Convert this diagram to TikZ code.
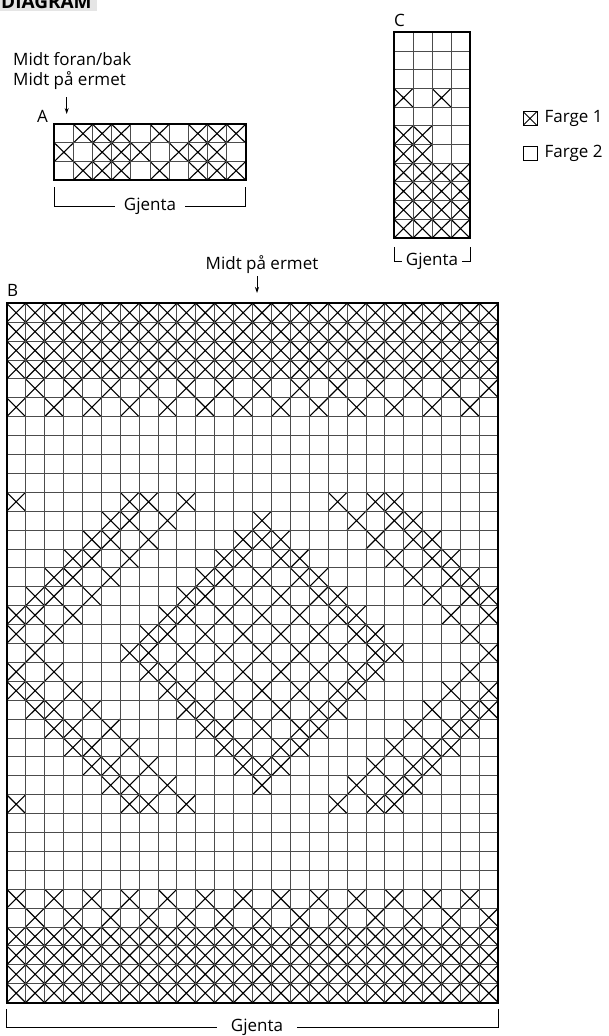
\documentclass[tikz,border=0pt]{standalone}
\usepackage{fontspec}
\setmainfont{Open Sans}
\usetikzlibrary{arrows.meta}

\tikzset{
  cellline/.style={line width=0.9pt, black!70},
  chartframe/.style={line width=1.8pt},
  xmark/.style={line width=1.1pt},
  lbl/.style={font=\fontsize{17}{20}\selectfont, inner sep=0pt},
  bracket/.style={line width=0.8pt},
  midtarrow/.style={line width=0.8pt, -{Stealth[length=6pt, width=4pt]}},
}

\begin{document}
\begin{tikzpicture}[x=1pt, y=-1pt]
  \useasboundingbox (0,0) rectangle (609,1036);
  % header, cut off at the top
  \begin{scope}
    \clip (0,0) rectangle (97,11);
    \fill[gray!20] (0,0) rectangle (97,11);
    \node[anchor=base west, inner sep=0pt, font=\fontsize{19}{22}\selectfont\bfseries] (title) at (1,8.5) {DIAGRAM};
  \end{scope}

  % chart A
  \node[lbl, anchor=base west] (midtfb) at (13,65.5) {Midt foran/bak};
  \node[lbl, anchor=base west] (midtpaA) at (13,85) {Midt på ermet};
  \coordinate (arrA0) at (66.7,97);
  \coordinate (arrA1) at (66.7,114);
  \draw[midtarrow] (arrA0) -- (arrA1);
  \node[lbl, anchor=base west] (labA) at (37,122) {A};
  \begin{scope}[shift={(54.3,124.3)}, x=19.14pt, y=-18.57pt]
    \foreach \r/\cs in {1/{2,3,4,6,8,9,10}, 2/{1,3,4,5,7,8,9}, 3/{2,3,4,6,8,9,10}}
      \foreach \c in \cs
        \draw[xmark] (\c-1,\r-1) -- (\c,\r) (\c-1,\r) -- (\c,\r-1);
    \foreach \i in {1,...,9}
      \draw[cellline] (\i,0) -- (\i,3);
    \foreach \j in {1,2}
      \draw[cellline] (0,\j) -- (10,\j);
    \draw[chartframe] (0,0) rectangle (10,3);
  \end{scope}
  \node[lbl, fill=white, inner xsep=9pt] (gjA) at (150,206) {Gjenta};
  \coordinate (gjAl) at (54.3,187);
  \coordinate (gjAr) at (245.7,187);
  \draw[bracket] (gjAl) |- (gjA.west);
  \draw[bracket] (gjAr) |- (gjA.east);

  % chart C
  \node[lbl, anchor=base west] (labC) at (394,26) {C};
  \begin{scope}[shift={(394,32.3)}, x=19pt, y=-18.7pt]
    \foreach \r/\cs in {4/{1,3}, 6/{1,2}, 7/{1,2}, 8/{1,...,4}, 9/{1,...,4}, 10/{1,...,4}, 11/{1,...,4}}
      \foreach \c in \cs
        \draw[xmark] (\c-1,\r-1) -- (\c,\r) (\c-1,\r) -- (\c,\r-1);
    \foreach \i in {1,2,3}
      \draw[cellline] (\i,0) -- (\i,11);
    \foreach \j in {1,...,10}
      \draw[cellline] (0,\j) -- (4,\j);
    \draw[chartframe] (0,0) rectangle (4,11);
  \end{scope}
  \node[lbl, fill=white, inner xsep=4pt] (gjC) at (432,261) {Gjenta};
  \coordinate (gjCl) at (394,247);
  \coordinate (gjCr) at (470,247);
  \draw[bracket] (gjCl) |- (gjC.west);
  \draw[bracket] (gjCr) |- (gjC.east);

  % legend
  \node[draw, line width=0.8pt, minimum width=14pt, minimum height=14pt, inner sep=0pt,
    path picture={\draw[line width=1pt] (path picture bounding box.south west) -- (path picture bounding box.north east)
      (path picture bounding box.north west) -- (path picture bounding box.south east);}] (key1) at (530,118.5) {};
  \node[lbl, anchor=west] (key1txt) at ([xshift=7pt]key1.east) {Farge 1};
  \node[draw, line width=0.8pt, minimum width=14pt, minimum height=14pt, inner sep=0pt] (key2) at (530,153) {};
  \node[lbl, anchor=west] (key2txt) at ([xshift=7pt]key2.east) {Farge 2};

  % chart B
  \node[lbl, anchor=base] (midtpaB) at (262,269) {Midt på ermet};
  \coordinate (arrB0) at (257,276);
  \coordinate (arrB1) at (257,293);
  \draw[midtarrow] (arrB0) -- (arrB1);
  \node[lbl, anchor=base west] (labB) at (7,296) {B};
  \begin{scope}[shift={(6.7,303.3)}, x=18.91pt, y=-18.9pt]
    \foreach \r/\cs in {
      1/{1,...,26}, 2/{1,...,26}, 3/{1,...,26}, 4/{1,...,26},
      5/{2,4,...,26}, 6/{1,3,...,25},
      11/{1,7,8,10,18,20,21}, 12/{6,7,9,14,19,21,22},
      13/{5,6,8,13,14,15,20,22,23}, 14/{4,5,7,12,13,15,16,21,23,24},
      15/{3,4,6,11,12,14,16,17,22,24,25}, 16/{2,3,5,10,11,13,15,17,18,23,25,26},
      17/{1,2,4,9,10,12,14,16,18,19,24,26}, 18/{1,3,8,9,11,13,15,17,19,20,25},
      19/{2,7,8,10,12,14,16,18,20,21,26},
      20/{1,3,8,9,11,13,15,17,19,20,25}, 21/{1,2,4,9,10,12,14,16,18,19,24,26},
      22/{2,3,5,10,11,13,15,17,18,23,25,26}, 23/{3,4,6,11,12,14,16,17,22,24,25},
      24/{4,5,7,12,13,15,16,21,23,24}, 25/{5,6,8,13,14,15,20,22,23},
      26/{6,7,9,14,19,21,22}, 27/{1,7,8,10,18,20,21},
      32/{1,3,...,25}, 33/{2,4,...,26},
      34/{1,...,26}, 35/{1,...,26}, 36/{1,...,26}, 37/{1,...,26}}
      \foreach \c in \cs
        \draw[xmark] (\c-1,\r-1) -- (\c,\r) (\c-1,\r) -- (\c,\r-1);
    \foreach \i in {1,...,25}
      \draw[cellline] (\i,0) -- (\i,37);
    \foreach \j in {1,...,36}
      \draw[cellline] (0,\j) -- (26,\j);
    \draw[chartframe] (0,0) rectangle (26,37);
  \end{scope}
  \node[lbl, fill=white, inner xsep=14pt] (gjB) at (257,1027) {Gjenta};
  \coordinate (gjBl) at (6.7,1009);
  \coordinate (gjBr) at (498.3,1009);
  \draw[bracket] (gjBl) |- (gjB.west);
  \draw[bracket] (gjBr) |- (gjB.east);
\end{tikzpicture}
\end{document}
